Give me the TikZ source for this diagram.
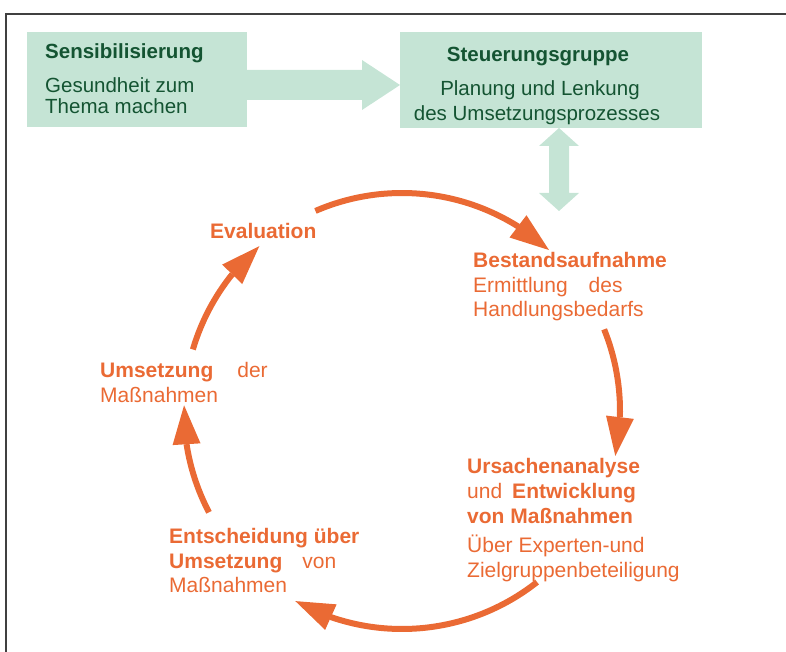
\documentclass[tikz,border=0pt]{standalone}
\usepackage{fontspec}
\setmainfont{Liberation Sans}
\usetikzlibrary{arrows.meta,bending,calc}
\definecolor{mint}{RGB}{197,228,213}
\definecolor{dgreen}{RGB}{20,84,50}
\definecolor{orng}{RGB}{234,106,52}
\definecolor{framecol}{RGB}{64,64,64}
\begin{document}
\begin{tikzpicture}[x=1pt,y=-1pt,
  gbox/.style={fill=mint,draw=none,anchor=north west,inner sep=0pt},
  gtxt/.style={text=dgreen,font=\fontsize{20.5}{24}\selectfont,inner sep=0pt},
  otxt/.style={text=orng,font=\fontsize{21}{25}\selectfont,inner sep=0pt,anchor=base west},
  cyc/.style={draw=orng,line width=6pt,-{Triangle[length=39pt,width=28pt,line width=0pt]}}
]
\useasboundingbox (0,0) rectangle (786,652);
% frame
\draw[framecol,line width=2pt] (6,652) -- (6,14) -- (786,14);

% green boxes
\node[gbox,minimum width=220pt,minimum height=95pt] (sens) at (27,32) {};
\node[gbox,minimum width=302pt,minimum height=96pt] (steu) at (400,32) {};

% block arrow right
\coordinate (ra) at (247,85);
\coordinate (rb) at (400,85);
\fill[mint] ($(ra)+(0,-15)$) -- ($(rb)+(-38,-15)$) -- ($(rb)+(-38,-25)$) -- (rb)
  -- ($(rb)+(-38,25)$) -- ($(rb)+(-38,15)$) -- ($(ra)+(0,15)$) -- cycle;

% double arrow
\coordinate (dt) at (559,128);
\coordinate (db) at (559,211);
\fill[mint] (dt) -- ($(dt)+(20,18)$) -- ($(dt)+(10,18)$) -- ($(db)+(10,-18)$)
  -- ($(db)+(20,-18)$) -- (db) -- ($(db)+(-20,-18)$) -- ($(db)+(-10,-18)$)
  -- ($(dt)+(-10,18)$) -- ($(dt)+(-20,18)$) -- cycle;

% green texts
\node[gtxt,anchor=base west] (s1) at (45,59) {\textbf{Sensibilisierung}};
\node[gtxt,anchor=base west] (s2) at (45,93) {Gesundheit zum};
\node[gtxt,anchor=base west] (s3) at (45,114) {Thema machen};
\node[gtxt,anchor=base] (t1) at (538,62) {\textbf{Steuerungsgruppe}};
\node[gtxt,anchor=base] (t2) at (540,96) {Planung und Lenkung};
\node[gtxt,anchor=base] (t3) at (537,121) {des Umsetzungsprozesses};

% cycle arcs
\coordinate (c) at (402,411);
\draw[cyc] ($(c)+(113.4:218pt)$) arc[start angle=113.4,end angle=47.6,radius=218pt];
\draw[cyc] ($(c)+(22:218pt)$) arc[start angle=22,end angle=-11.9,radius=218pt];
\draw[cyc] ($(c)+(-51.7:218pt)$) arc[start angle=-51.7,end angle=-119.3,radius=218pt];
\draw[cyc] ($(c)+(-152.3:218pt)$) arc[start angle=-152.3,end angle=-181.5,radius=218pt];
\draw[cyc] ($(c)+(163.6:218pt)$) arc[start angle=163.6,end angle=130.9,radius=218pt];

% orange texts
\node[otxt] (ev) at (210,239) {\textbf{Evaluation}};

\node[otxt] (b1) at (473,267) {\textbf{Bestandsaufnahme}};
\node[otxt] (b2) at (473,292) {Ermittlung\hspace*{21pt}des};
\node[otxt] (b3) at (473,316) {Handlungsbedarfs};

\node[otxt] (u1) at (467,473) {\textbf{Ursachenanalyse}};
\node[otxt] (u2) at (467,498) {und\hspace*{10pt}\textbf{Entwicklung}};
\node[otxt] (u3) at (467,523) {\textbf{von Maßnahmen}};
\node[otxt] (u4) at (467,552) {Über Experten-und};
\node[otxt] (u5) at (467,577) {Zielgruppenbeteiligung};

\node[otxt] (e1) at (169,543) {\textbf{Entscheidung über}};
\node[otxt] (e2) at (169,568) {\textbf{Umsetzung}\hspace*{20pt}von};
\node[otxt] (e3) at (169,592) {Maßnahmen};

\node[otxt] (m1) at (100,377) {\textbf{Umsetzung}\hspace*{24pt}der};
\node[otxt] (m2) at (100,402) {Maßnahmen};
\end{tikzpicture}
\end{document}
